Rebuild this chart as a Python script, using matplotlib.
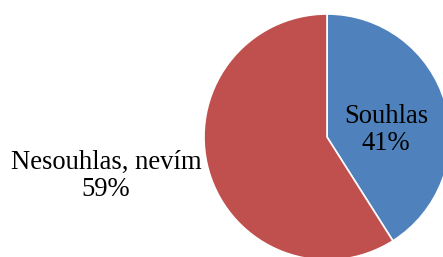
import matplotlib
matplotlib.use("Agg")
import matplotlib.pyplot as plt

# data
labels = ["Souhlas", "Nesouhlas, nevím"]
shares = [41, 59]
colors = ["#4F81BD", "#C0504D"]

plt.rcParams['font.family'] = ['Liberation Serif', 'DejaVu Serif']

fig = plt.figure(figsize=(4.43, 2.57), dpi=100)
ax = fig.add_axes([0, 0, 1, 1])
ax.axis('off')

#### pie, clockwise from the top
ax.pie(shares, colors=colors, startangle=90, counterclock=False,
       center=(327, 120), radius=123,
       wedgeprops=dict(edgecolor='white', linewidth=1.2))
ax.set_xlim(0, 443)
ax.set_ylim(0, 257)
ax.set_aspect('equal')

#### labels
ax.text(386, 127, "%s\n%d%%" % (labels[0], shares[0]), ha='center', va='center',
        fontsize=19.2, linespacing=1.1)
ax.text(106, 81, "%s\n%d%%" % (labels[1], shares[1]), ha='center', va='center',
        fontsize=19.2, linespacing=1.1)

fig.savefig("out.png", dpi=100)
